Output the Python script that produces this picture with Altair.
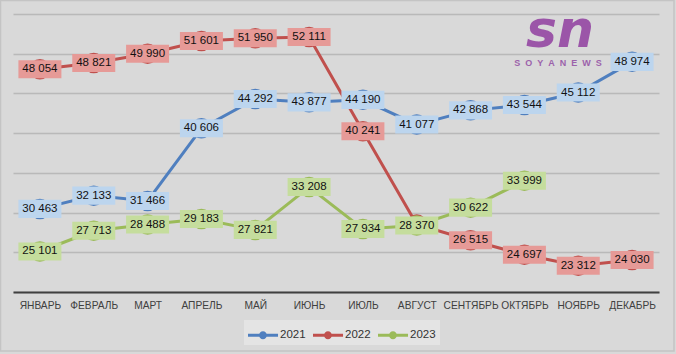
import altair as alt
import pandas as pd

months = ["ЯНВАРЬ", "ФЕВРАЛЬ", "МАРТ", "АПРЕЛЬ", "МАЙ", "ИЮНЬ",
          "ИЮЛЬ", "АВГУСТ", "СЕНТЯБРЬ", "ОКТЯБРЬ", "НОЯБРЬ", "ДЕКАБРЬ"]
years = ["2021", "2022", "2023"]
v2021 = [30463, 32133, 31466, 40606, 44292, 43877, 44190, 41077, 42868, 43544, 45112, 48974]
v2022 = [48054, 48821, 49990, 51601, 51950, 52111, 40241, 28500, 26515, 24697, 23312, 24030]
v2023 = [25101, 27713, 28488, 29183, 27821, 33208, 27934, 28370, 30622, 33999, None, None]
# label visibility (the 2022 August label is hidden behind the 2023 label)
show2022 = [True, True, True, True, True, True, True, False, True, True, True, True]

line_colors = ["#4f7fbf", "#c0504d", "#9bbb59"]
box_colors = ["#bcd5ee", "#e69a97", "#c5dd9d"]
grid_values = [20000, 25000, 30000, 35000, 40000, 45000, 50000, 55000]

rows = []
for yr, vals in zip(years, [v2021, v2022, v2023]):
    for i, (m, v) in enumerate(zip(months, vals)):
        if v is None:
            continue
        show = show2022[i] if yr == "2022" else True
        rows.append({"month": m, "year": yr, "value": v,
                     "label": f"{v:,}".replace(",", " "), "show": show})
df = pd.DataFrame(rows)

FONT = "Liberation Sans"

base = alt.Chart(df).encode(
    x=alt.X("month:N", sort=months,
            scale=alt.Scale(type="point", padding=0.5),
            axis=alt.Axis(title=None, domainColor="#404040", domainWidth=2,
                          ticks=False, labelPadding=8, labelFont=FONT,
                          labelFontSize=10.2, labelColor="#404040",
                          labelAngle=0, labelOverlap=False, grid=False)),
    y=alt.Y("value:Q",
            scale=alt.Scale(domain=[20000, 55000], nice=False, zero=False),
            axis=alt.Axis(title=None, labels=False, ticks=False, domain=False,
                          values=grid_values, grid=True, gridColor="#b9b9b9",
                          gridWidth=1.5)),
)

# legend symbol: a short line with a small dot in the middle
legend_path = ("M-1,-0.14L1.73,-0.14L1.73,0.14L-1,0.14Z"
               "M0.72,0A0.36,0.36,0,1,1,0.0,0A0.36,0.36,0,1,1,0.72,0Z")
legend = alt.Legend(title=None, orient="none", direction="horizontal",
                    legendX=231, legendY=306,
                    symbolType=legend_path, symbolSize=484,
                    symbolStrokeWidth=0, symbolOpacity=1,
                    labelFont=FONT, labelFontSize=11.5,
                    labelColor="#333333", labelOffset=10,
                    columnPadding=7, padding=4,
                    fillColor="#e4e4e4")
color = alt.Color("year:N", scale=alt.Scale(domain=years, range=line_colors),
                  legend=legend)

lines = base.mark_line(strokeWidth=3).encode(color=color)
points = base.mark_circle(size=420, opacity=1).encode(color=color)

box_path = "M-1,-0.42L1,-0.42L1,0.42L-1,0.42Z"
boxes = base.transform_filter("datum.show").mark_point(
    shape=box_path, filled=True, size=1849, opacity=1, strokeWidth=0
).encode(
    fill=alt.Fill("year:N", scale=alt.Scale(domain=years, range=box_colors),
                  legend=None)
)

texts = base.transform_filter("datum.show").mark_text(
    font=FONT, fontSize=11.5, color="#111111"
).encode(text="label:N")

logo_df = pd.DataFrame({"t": ["sn"]})
logo = alt.Chart(logo_df).mark_text(
    font="DejaVu Sans", fontSize=52, fontStyle="italic", fontWeight="bold",
    color="#9b55a8", baseline="alphabetic", align="center"
).encode(x=alt.value(547), y=alt.value(33), text="t:N")

brand_df = pd.DataFrame({"t": ["S\u00a0\u00a0O\u00a0\u00a0Y\u00a0\u00a0A\u00a0\u00a0N\u00a0\u00a0E\u00a0\u00a0W\u00a0\u00a0S"]})
brand = alt.Chart(brand_df).mark_text(
    font=FONT, fontSize=9, fontWeight="bold", color="#9c62ab",
    baseline="middle", align="center"
).encode(x=alt.value(545), y=alt.value(49), text="t:N")

# thin outer frame of the picture
frame = alt.Chart(pd.DataFrame({"f": [1]})).mark_rect(
    fill=None, stroke="#c4c4c4", strokeWidth=1.5
).encode(x=alt.value(-12.5), x2=alt.value(661), y=alt.value(-13.5), y2=alt.value(337))

chart = alt.layer(frame, lines, points, boxes, texts, logo, brand).properties(
    width=646, height=278,
    padding={"left": 13, "top": 14, "right": 17, "bottom": 62},
    autosize=alt.AutoSizeParams(type="none"),
    background="#d9d9d9",
).configure_view(strokeWidth=0)

chart.save("out.html", embed_options={"renderer": "svg", "actions": False})
